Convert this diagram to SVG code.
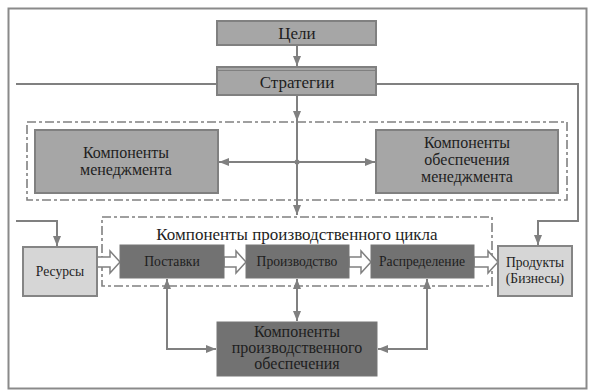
<svg xmlns="http://www.w3.org/2000/svg" width="589" height="392" viewBox="0 0 589 392">
<style>
text{font-family:"Liberation Serif","DejaVu Serif",serif;fill:#1e1e1e;text-anchor:middle}
.big{font-size:17px}
.ml{font-size:16px}
.sm{font-size:13.6px}
.mid{fill:#a6a6a6;stroke:#808080;stroke-width:2}
.dark{fill:#727272;stroke:#777;stroke-width:1}
.light{fill:#d6d6d6;stroke:#858585;stroke-width:2}
.ln{fill:none;stroke:#808080;stroke-width:2}
.dash{fill:none;stroke:#808080;stroke-width:1.6;stroke-dasharray:9 3 3 3}
.blk{fill:#fff;stroke:#808080;stroke-width:1.5;stroke-linejoin:miter}
</style>
<defs>
<marker id="ah" viewBox="0 0 10 8" refX="10" refY="4" markerWidth="10" markerHeight="8" markerUnits="userSpaceOnUse" orient="auto-start-reverse">
<path d="M0,0 L10,4 L0,8 Z" fill="#808080"/>
</marker>
</defs>
<rect x="0" y="0" width="589" height="392" fill="#fff"/>
<rect x="8.5" y="8.5" width="578" height="380" fill="none" stroke="#8a8a8a" stroke-width="2"/>

<g id="containers">
<rect class="dash" x="27" y="122" width="540" height="78"/>
<rect class="dash" x="102" y="217" width="390" height="69"/>
<text class="big" x="297" y="240">Компоненты производственного цикла</text>
</g>

<g id="connectors">
<path class="ln" d="M16,84 H217"/>
<path class="ln" d="M376,84 H578 V221 H538 V245" marker-end="url(#ah)"/>
<path class="ln" d="M16,221 H57 V246" marker-end="url(#ah)"/>
<path class="ln" d="M297,45 V66" marker-end="url(#ah)"/>
<path class="ln" d="M297,95 V121" marker-end="url(#ah)"/>
<path class="ln" d="M297,121 V215" marker-end="url(#ah)"/>
<path class="ln" d="M297,162 H219" marker-end="url(#ah)"/>
<path class="ln" d="M297,162 H375" marker-end="url(#ah)"/>
<circle cx="297" cy="162" r="2.5" fill="#808080"/>
<path class="ln" d="M297,279 V321" marker-start="url(#ah)" marker-end="url(#ah)"/>
<path class="ln" d="M167,279 V349 H216" marker-start="url(#ah)" marker-end="url(#ah)"/>
<path class="ln" d="M427,279 V349 H378" marker-start="url(#ah)" marker-end="url(#ah)"/>
<polygon class="blk" points="97,257 110,257 110,251 120,262 110,273 110,267 97,267"/>
<polygon class="blk" points="224,257 236,257 236,251 246,262 236,273 236,267 224,267"/>
<polygon class="blk" points="349,257 361,257 361,251 371,262 361,273 361,267 349,267"/>
<polygon class="blk" points="474,257 488,257 488,251 498,262 488,273 488,267 474,267"/>
</g>

<g id="goals">
<rect class="mid" x="217" y="21" width="159" height="24"/>
<text class="big" x="297" y="38.5">Цели</text>
</g>
<g id="strategies">
<rect class="mid" x="217" y="67" width="159" height="28"/>
<line x1="218" y1="70.5" x2="375" y2="70.5" stroke="#808080" stroke-width="1"/>
<text class="big" x="297" y="88">Стратегии</text>
</g>
<g id="mgmt">
<rect class="mid" x="35" y="130" width="183" height="63"/>
<text class="ml" x="126" y="158">Компоненты</text>
<text class="ml" x="126" y="175">менеджмента</text>
</g>
<g id="mgmt-support">
<rect class="mid" x="376" y="130" width="182" height="63"/>
<text class="ml" x="467" y="148">Компоненты</text>
<text class="ml" x="467" y="165">обеспечения</text>
<text class="ml" x="467" y="182">менеджмента</text>
</g>
<g id="resources">
<rect class="light" x="23" y="247" width="74" height="49"/>
<text class="sm" x="60" y="276">Ресурсы</text>
</g>
<g id="supply">
<rect class="dark" x="120" y="245" width="104" height="33"/>
<text class="sm" x="172" y="266">Поставки</text>
</g>
<g id="production">
<rect class="dark" x="246" y="245" width="103" height="33"/>
<text class="sm" x="297" y="266">Производство</text>
</g>
<g id="distribution">
<rect class="dark" x="371" y="245" width="103" height="33"/>
<text class="sm" x="422" y="266">Распределение</text>
</g>
<g id="products">
<rect class="light" x="498" y="246" width="74" height="50"/>
<text class="sm" x="535" y="267">Продукты</text>
<text class="sm" x="535" y="283">(Бизнесы)</text>
</g>
<g id="prod-support">
<rect class="dark" x="217" y="322" width="160" height="54"/>
<text class="ml" x="297" y="337">Компоненты</text>
<text class="ml" x="297" y="353">производственного</text>
<text class="ml" x="297" y="369">обеспечения</text>
</g>
</svg>
